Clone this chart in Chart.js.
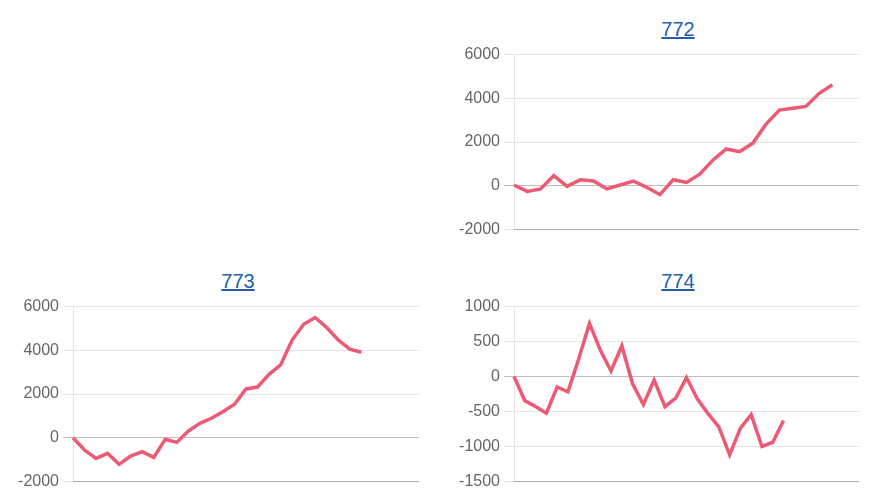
<!DOCTYPE html>
<html>
<head>
<meta charset="utf-8">
<script src="https://cdn.jsdelivr.net/npm/chart.js@4/dist/chart.umd.min.js"></script>
<style>
  html, body { margin: 0; padding: 0; background: #fff; overflow: hidden; }
  body { width: 892px; height: 504px; position: relative; font-family: "Liberation Sans", Arial, sans-serif; }
  .title { position: absolute; width: 440px; text-align: center; font-size: 20px; line-height: 24px; }
  .title a { color: #2360aa; text-decoration: underline; }
  .box { position: absolute; height: 202px; }
</style>
</head>
<body>
<div class="title" style="left:458px; top:17px;"><a href="#">772</a></div>
<div class="box" style="left:457px; top:41px; width:402px;"><canvas id="c772"></canvas></div>

<div class="title" style="left:18px; top:269px;"><a href="#">773</a></div>
<div class="box" style="left:16px; top:293px; width:403px;"><canvas id="c773"></canvas></div>

<div class="title" style="left:458px; top:269px;"><a href="#">774</a></div>
<div class="box" style="left:457px; top:293px; width:402px;"><canvas id="c774"></canvas></div>

<script>
// x slots per chart (axis is hidden, only the count matters)
const slots772 = 27;
const slots773 = 31;
const slots774 = 33;

const values772 = [30, -260, -150, 460, -30, 275, 215, -150, 30, 215, -75, -410, 275,
  150, 530, 1180, 1680, 1560, 1950, 2820, 3460, 3540, 3630, 4230, 4620];
const values773 = [0, -565, -950, -720, -1220, -840, -640, -900, -75, -215, 305, 660, 890,
  1190, 1530, 2230, 2320, 2900, 3330, 4470, 5190, 5500, 5040, 4470, 4050, 3910];
const values774 = [0, -345, -430, -525, -150, -220, 250, 760, 380, 80, 440, -105, -400,
  -50, -430, -310, -15, -320, -530, -720, -1120, -740, -545, -1000, -940, -630];

const ticks772 = [-2000, 0, 2000, 4000, 6000];
const ticks773 = [-2000, 0, 2000, 4000, 6000];
const ticks774 = [-1500, -1000, -500, 0, 500, 1000];

const LINE_COLOR = "#ec5a73";

function makeLabels(n) {
  const out = [];
  for (let i = 1; i <= n; i++) out.push(String(i));
  return out;
}

function drawChart(id, slots, values, ticks) {
  new Chart(document.getElementById(id), {
    type: "line",
    data: {
      labels: makeLabels(slots),
      datasets: [
        {
          data: values,
          borderColor: LINE_COLOR,
          backgroundColor: LINE_COLOR,
          borderWidth: 3.5,
          pointRadius: 0,
          tension: 0,
          fill: false,
        },
      ],
    },
    options: {
      responsive: true,
      maintainAspectRatio: false,
      animation: false,
      layout: { padding: 0 },
      plugins: {
        legend: { display: false },
        title: { display: false },
      },
      scales: {
        x: {
          ticks: { display: false },
          grid: { display: false },
          border: { color: "rgba(0,0,0,0.25)" },
        },
        y: {
          min: ticks[0],
          max: ticks[ticks.length - 1],
          afterBuildTicks: (scale) => {
            scale.ticks = ticks.map((v) => ({ value: v }));
          },
          afterFit: (scale) => {
            scale.width = 57;
          },
          ticks: {
            color: "#666",
            padding: 4,
            font: { size: 16, family: "'Liberation Sans', Arial, sans-serif" },
            callback: (v) => String(v),
          },
          grid: {
            tickLength: 10,
            color: (ctx) =>
              ctx.tick && ctx.tick.value === 0 ? "rgba(0,0,0,0.25)" : "rgba(0,0,0,0.1)",
          },
          border: { color: "rgba(0,0,0,0.1)" },
        },
      },
    },
  });
}

drawChart("c772", slots772, values772, ticks772);
drawChart("c773", slots773, values773, ticks773);
drawChart("c774", slots774, values774, ticks774);
</script>
</body>
</html>
